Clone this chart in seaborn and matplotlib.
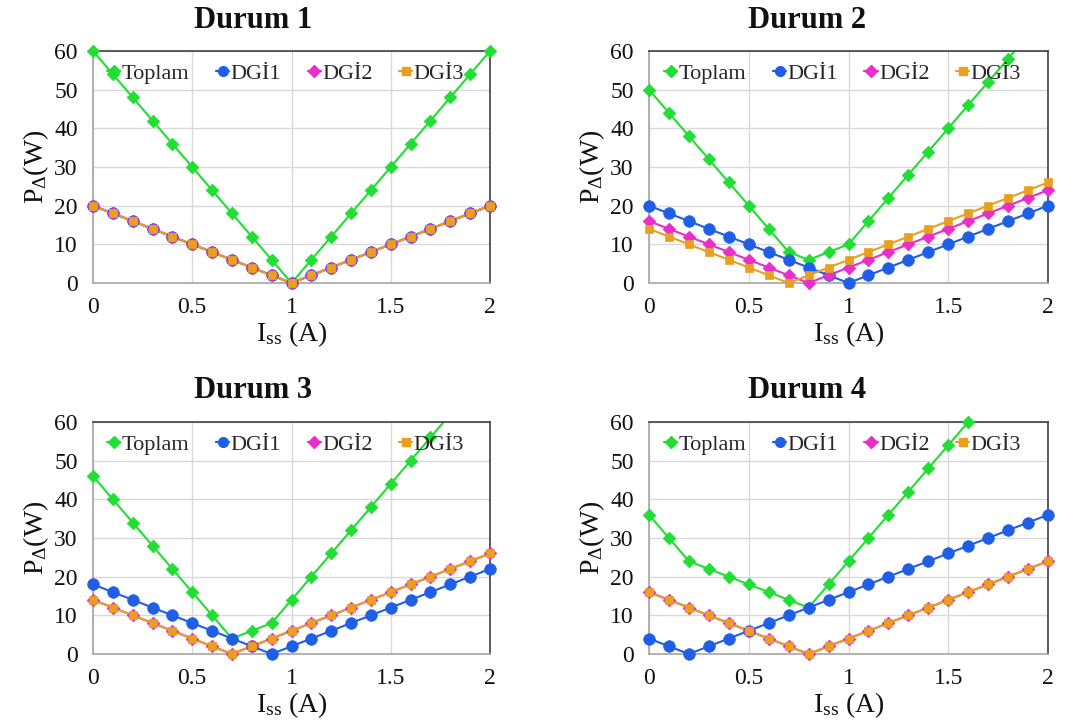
"""
Loss power vs. I_ss for four cases (Durum 1-4), 2x2 panel.
"""

import matplotlib.pyplot as plt
import pandas as pd
import seaborn as sns
from matplotlib.lines import Line2D

I_SS = [0.0, 0.1, 0.2, 0.3, 0.4, 0.5, 0.6, 0.7, 0.8, 0.9, 1.0,
        1.1, 1.2, 1.3, 1.4, 1.5, 1.6, 1.7, 1.8, 1.9, 2.0]

SERIES = ["Toplam", "DGİ1", "DGİ2", "DGİ3"]
TITLES = ["Durum 1", "Durum 2", "Durum 3", "Durum 4"]

# Durum 1
d1_toplam = [60, 54, 48, 42, 36, 30, 24, 18, 12, 6, 0, 6, 12, 18, 24, 30, 36, 42, 48, 54, 60]
d1_dgi1 = [20, 18, 16, 14, 12, 10, 8, 6, 4, 2, 0, 2, 4, 6, 8, 10, 12, 14, 16, 18, 20]
d1_dgi2 = [20, 18, 16, 14, 12, 10, 8, 6, 4, 2, 0, 2, 4, 6, 8, 10, 12, 14, 16, 18, 20]
d1_dgi3 = [20, 18, 16, 14, 12, 10, 8, 6, 4, 2, 0, 2, 4, 6, 8, 10, 12, 14, 16, 18, 20]

# Durum 2
d2_toplam = [50, 44, 38, 32, 26, 20, 14, 8, 6, 8, 10, 16, 22, 28, 34, 40, 46, 52, 58, 64, 70]
d2_dgi1 = [20, 18, 16, 14, 12, 10, 8, 6, 4, 2, 0, 2, 4, 6, 8, 10, 12, 14, 16, 18, 20]
d2_dgi2 = [16, 14, 12, 10, 8, 6, 4, 2, 0, 2, 4, 6, 8, 10, 12, 14, 16, 18, 20, 22, 24]
d2_dgi3 = [14, 12, 10, 8, 6, 4, 2, 0, 2, 4, 6, 8, 10, 12, 14, 16, 18, 20, 22, 24, 26]

# Durum 3
d3_toplam = [46, 40, 34, 28, 22, 16, 10, 4, 6, 8, 14, 20, 26, 32, 38, 44, 50, 56, 62, 68, 74]
d3_dgi1 = [18, 16, 14, 12, 10, 8, 6, 4, 2, 0, 2, 4, 6, 8, 10, 12, 14, 16, 18, 20, 22]
d3_dgi2 = [14, 12, 10, 8, 6, 4, 2, 0, 2, 4, 6, 8, 10, 12, 14, 16, 18, 20, 22, 24, 26]
d3_dgi3 = [14, 12, 10, 8, 6, 4, 2, 0, 2, 4, 6, 8, 10, 12, 14, 16, 18, 20, 22, 24, 26]

# Durum 4
d4_toplam = [36, 30, 24, 22, 20, 18, 16, 14, 12, 18, 24, 30, 36, 42, 48, 54, 60, 66, 72, 78, 84]
d4_dgi1 = [4, 2, 0, 2, 4, 6, 8, 10, 12, 14, 16, 18, 20, 22, 24, 26, 28, 30, 32, 34, 36]
d4_dgi2 = [16, 14, 12, 10, 8, 6, 4, 2, 0, 2, 4, 6, 8, 10, 12, 14, 16, 18, 20, 22, 24]
d4_dgi3 = [16, 14, 12, 10, 8, 6, 4, 2, 0, 2, 4, 6, 8, 10, 12, 14, 16, 18, 20, 22, 24]

CASES = [
    [d1_toplam, d1_dgi1, d1_dgi2, d1_dgi3],
    [d2_toplam, d2_dgi1, d2_dgi2, d2_dgi3],
    [d3_toplam, d3_dgi1, d3_dgi2, d3_dgi3],
    [d4_toplam, d4_dgi1, d4_dgi2, d4_dgi3],
]

COLORS = {"Toplam": "#22dd33", "DGİ1": "#1f5fe6", "DGİ2": "#e630c8", "DGİ3": "#e8a020"}
MARKERS = {"Toplam": "D", "DGİ1": "o", "DGİ2": "D", "DGİ3": "s"}
SIZES = {"Toplam": 42, "DGİ1": 70, "DGİ2": 42, "DGİ3": 40}

sns.set_theme(style="white")
plt.rcParams["font.family"] = ["Liberation Serif", "DejaVu Serif"]
plt.rcParams["mathtext.fontset"] = "custom"
plt.rcParams["mathtext.rm"] = "Liberation Serif"
plt.rcParams["mathtext.it"] = "Liberation Serif:italic"

W, H = 1079, 724
fig = plt.figure(figsize=(W / 100, H / 100), dpi=100)
fig.patch.set_facecolor("white")

# axes boxes in pixels: left, top, right, bottom
boxes = [(93, 51, 490, 283), (649, 51, 1048, 283), (93, 422, 490, 654), (649, 422, 1048, 654)]
title_pos = [(253, 20), (807, 20), (253, 390), (807, 390)]


def long_frame(values):
    rows = []
    for name, ys in zip(SERIES, values):
        for x, y in zip(I_SS, ys):
            rows.append({"I": x, "P": y, "Seri": name})
    return pd.DataFrame(rows)


for k, (box, values) in enumerate(zip(boxes, CASES)):
    l, t, r, b = box
    ax = fig.add_axes([l / W, 1 - b / H, (r - l) / W, (b - t) / H])
    df = long_frame(values)

    sns.lineplot(data=df, x="I", y="P", hue="Seri", hue_order=SERIES, palette=COLORS,
                 linewidth=1.5, legend=False, ax=ax, zorder=2)
    shown = df[df["P"] <= 60]
    for name in SERIES:
        sub = shown[shown["Seri"] == name]
        sns.scatterplot(data=sub, x="I", y="P", color=COLORS[name], marker=MARKERS[name],
                        s=SIZES[name], edgecolor=COLORS[name], linewidth=0.5,
                        legend=False, ax=ax, zorder=3, clip_on=False)

    ax.set_xlim(0, 2)
    ax.set_ylim(0, 60)
    ax.set_xticks([0, 0.5, 1, 1.5, 2])
    ax.set_xticklabels(["0", "0.5", "1", "1.5", "2"])
    ax.set_yticks(range(0, 61, 10))
    ax.tick_params(axis="both", labelsize=17, length=0, colors="#111111")
    ax.tick_params(axis="y", pad=11)
    ax.tick_params(axis="x", pad=10)
    ax.grid(True, color="#d9d9d9", linewidth=1)
    ax.set_axisbelow(True)
    for side in ["left", "bottom"]:
        ax.spines[side].set_color("#a6a6a6")
        ax.spines[side].set_linewidth(1.2)
    for side in ["top", "right"]:
        ax.spines[side].set_color("#404040")
        ax.spines[side].set_linewidth(1.2)

    ax.set_xlabel(r"I$_{\mathrm{ss}}$ (A)", fontsize=20, labelpad=1, color="#111111")
    ax.set_ylabel(r"P$_{\Delta}$(W)", fontsize=20, labelpad=2, color="#111111")

    handles = [
        Line2D([0], [0], color=COLORS[n], marker=MARKERS[n], markersize=6 if n != "DGİ1" else 7,
               linewidth=1.6)
        for n in SERIES
    ]
    ax.legend(handles, SERIES, loc="upper center", bbox_to_anchor=(0.485, 1.0), ncol=4,
              frameon=False, fontsize=16, handlelength=0.6, handletextpad=0.05,
              columnspacing=1.2, borderaxespad=0.15)

    tx, ty = title_pos[k]
    fig.text(tx / W, 1 - ty / H, TITLES[k], ha="center", va="center",
             fontsize=22, fontweight="bold", color="#111111")

fig.savefig("out.png", dpi=100)
